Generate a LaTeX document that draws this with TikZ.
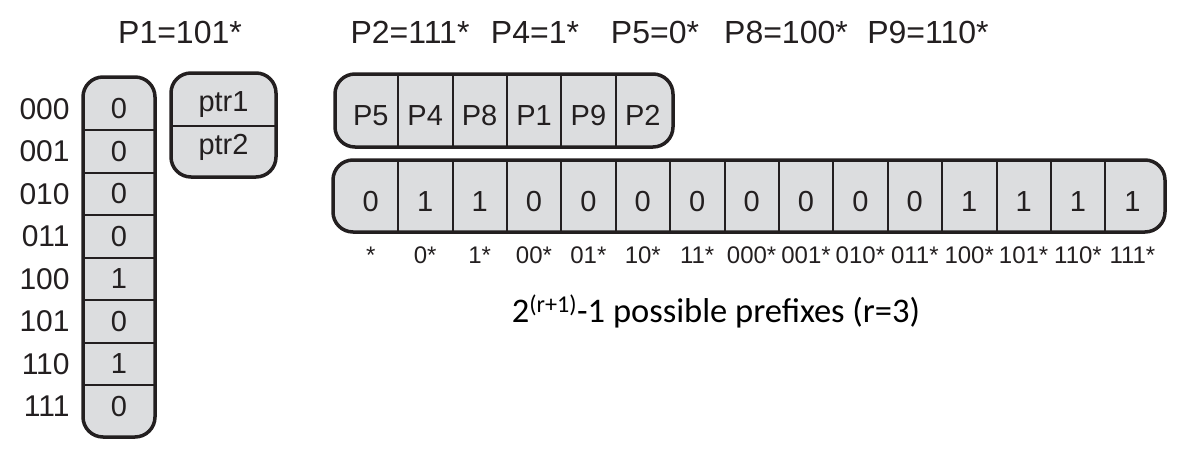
\documentclass[tikz,border=0pt]{standalone}
\usepackage{fontspec}
\setmainfont{Liberation Sans}
\newfontfamily\calibri{Carlito}
\usetikzlibrary{positioning}
\definecolor{cellgray}{RGB}{220,221,223}
\definecolor{ink}{RGB}{35,31,32}

\begin{document}
\begin{tikzpicture}[x=1pt,y=-1pt,text=ink,
  box/.style={draw=ink,line width=3.5pt,fill=cellgray,rounded corners=20pt},
  sep/.style={draw=ink,line width=2pt},
  cell/.style={inner sep=0pt,font=\fontsize{29}{31}\selectfont},
  bit/.style={cell,minimum width=54.4pt,text height=30pt,text depth=0pt},
  tag/.style={inner sep=0pt,font=\fontsize{24}{26}\selectfont,text height=17pt,text depth=0pt},
  addr/.style={inner sep=0pt,font=\fontsize{30}{32}\selectfont},
  head/.style={inner sep=0pt,font=\fontsize{32}{34}\selectfont}]
  \useasboundingbox (0,0) rectangle (1199,466);

  % prefixes
  \node[head] (h1) at (180,32) {P1=101*};
  \node[head] (h2) at (410,32) {P2=111*};
  \node[head] (h4) at (535,32) {P4=1*};
  \node[head] (h5) at (655,32) {P5=0*};
  \node[head] (h8) at (786,32) {P8=100*};
  \node[head] (h9) at (928,32) {P9=110*};

  % bitmap of 3-bit addresses
  \draw[box] (83,77) rectangle (155,437);
  \foreach \v [count=\i from 0] in {0,0,0,0,1,0,1,0}
    \node[cell,minimum width=72pt,minimum height=42.5pt] (m\i) at (119,109+42.5*\i) {\v};
  \foreach \i in {0,...,6}
    \draw[sep] (m\i.south west) -- (m\i.south east);
  \foreach \a [count=\i from 0] in {000,001,010,011,100,101,110,111}
    \node[addr,left=13pt of m\i] (a\i) {\a};

  % pointers
  \draw[box] (171,73) rectangle (276,177);
  \node[cell,minimum width=105pt,minimum height=42pt] (ptr1) at (223.5,105) {ptr1};
  \node[cell,minimum width=105pt,minimum height=42pt] (ptr2) at (223.5,147) {ptr2};
  \draw[sep] (ptr1.south west) -- (ptr1.south east);

  % next hop array
  \draw[box] (335,74) rectangle (673,147);
  \foreach \p [count=\i from 0] in {P5,P4,P8,P1,P9,P2}
    \node[bit,minimum height=73pt] (p\i) at (370.8+54.4*\i,110.5) {\p};
  \foreach \i in {0,...,4}
    \draw[sep] (p\i.north east) -- (p\i.south east);

  % prefix bitmap
  \draw[box] (333,160) rectangle (1165,232);
  \foreach \v [count=\i from 0] in {0,1,1,0,0,0,0,0,0,0,0,1,1,1,1}
    \node[bit,minimum height=72pt] (b\i) at (370.8+54.4*\i,196) {\v};
  \foreach \i in {0,...,13}
    \draw[sep] (b\i.north east) -- (b\i.south east);
  \foreach \t [count=\i from 0] in {*,0*,1*,00*,01*,10*,11*,000*,001*,010*,011*,100*,101*,110*,111*}
    \node[tag,below=14pt of b\i] (t\i) {\t};

  \node[font=\calibri\fontsize{34.5}{36}\selectfont,text=black,anchor=base] (note) at (716,322)
    {2\textsuperscript{(r+1)}-1 possible prefixes (r=3)};
\end{tikzpicture}
\end{document}
